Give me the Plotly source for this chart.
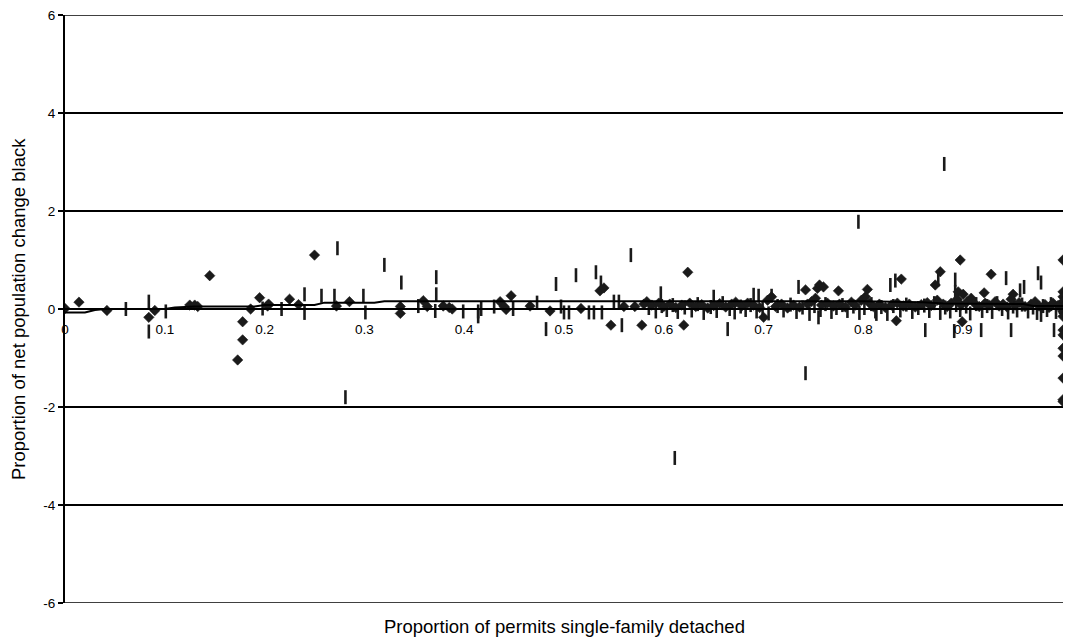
import plotly.graph_objects as go

# ---------------- data ----------------
diamond_x = [0.000, 0.014, 0.042, 0.084, 0.090, 0.125, 0.130, 0.133, 0.145, 0.173, 0.178, 0.178,
             0.186, 0.195, 0.203, 0.204, 0.225, 0.234, 0.250, 0.272, 0.285, 0.336, 0.336, 0.359,
             0.363, 0.379, 0.385, 0.388, 0.436, 0.440, 0.442, 0.447, 0.466, 0.486, 0.517, 0.536,
             0.540, 0.547, 0.560, 0.571, 0.578, 0.580, 0.583, 0.620, 0.624, 0.700, 0.708, 0.742,
             0.754, 0.756, 0.760, 0.775, 0.804, 0.833, 0.838, 0.872, 0.877, 0.895, 0.897, 0.899,
             0.900, 0.921, 0.928, 0.950,
             1.000, 1.000, 1.000, 1.000, 1.000, 1.000, 1.000, 1.000, 1.000, 1.000, 1.000, 1.000,
             1.000, 1.000,
             0.588, 0.595, 0.600, 0.606, 0.612, 0.618, 0.626, 0.632, 0.638, 0.644, 0.650, 0.656,
             0.662, 0.668, 0.672, 0.678, 0.684, 0.690, 0.696, 0.704, 0.712, 0.718, 0.724, 0.730,
             0.736, 0.744, 0.748, 0.752, 0.758, 0.764, 0.770, 0.776, 0.782, 0.788, 0.792, 0.798,
             0.802, 0.806, 0.810, 0.816, 0.822, 0.828, 0.834, 0.840, 0.846, 0.852, 0.858, 0.864,
             0.868, 0.874, 0.880, 0.884, 0.888, 0.894, 0.898, 0.904, 0.908, 0.912, 0.916, 0.922,
             0.926, 0.932, 0.936, 0.940, 0.944, 0.948, 0.952, 0.956, 0.962, 0.968, 0.972, 0.976,
             0.982, 0.986, 0.990, 0.995]
diamond_y = [0.01, 0.14, -0.03, -0.17, -0.03, 0.08, 0.08, 0.05, 0.68, -1.04, -0.26, -0.63,
             0.00, 0.23, 0.06, 0.10, 0.20, 0.09, 1.10, 0.06, 0.15, 0.05, -0.09, 0.17,
             0.05, 0.06, 0.03, 0.00, 0.15, 0.05, -0.01, 0.27, 0.06, -0.04, 0.01, 0.37,
             0.43, -0.33, 0.05, 0.05, -0.33, 0.10, 0.15, -0.33, 0.75, -0.17, 0.25, 0.39,
             0.42, 0.49, 0.45, 0.37, 0.40, -0.24, 0.61, 0.49, 0.76, 0.35, 1.00, -0.26,
             0.30, 0.33, 0.71, 0.30,
             1.00, 0.35, 0.25, 0.15, 0.05, -0.05, -0.15, -0.43, -0.53, -0.80, -0.96, -1.41,
             -1.85, -1.89,
             0.08, 0.12, 0.05, 0.10, 0.03, 0.08, 0.12, 0.05, 0.09, 0.02, 0.07, 0.11,
             0.04, 0.10, 0.14, 0.06, 0.12, 0.08, 0.03, 0.18, 0.05, 0.10, 0.02, 0.08,
             0.04, 0.10, 0.15, 0.22, 0.08, 0.12, 0.06, 0.10, 0.04, 0.14, 0.08, 0.18,
             0.25, 0.12, 0.05, 0.10, 0.03, 0.08, 0.12, 0.06, 0.10, 0.04, 0.09, 0.13,
             0.07, 0.18, 0.10, 0.05, 0.12, 0.20, 0.08, 0.15, 0.22, 0.10, 0.05, 0.12,
             0.08, 0.15, 0.06, 0.10, 0.04, 0.20, 0.08, 0.13, 0.05, 0.10, 0.15, 0.06,
             0.09, 0.03, 0.12, 0.07]

dash_x = [0.061, 0.084, 0.084, 0.101, 0.198, 0.217, 0.240, 0.240, 0.257, 0.270, 0.273, 0.281,
          0.299, 0.301, 0.320, 0.337, 0.354, 0.371, 0.372, 0.372, 0.399, 0.414, 0.414, 0.417,
          0.430, 0.449, 0.473, 0.482, 0.492, 0.497, 0.500, 0.505, 0.512, 0.525, 0.530, 0.532,
          0.537, 0.538, 0.550, 0.555, 0.558, 0.567, 0.597, 0.611, 0.650, 0.664, 0.690, 0.695,
          0.708, 0.735, 0.742, 0.755, 0.795, 0.813, 0.827, 0.832, 0.862, 0.875, 0.881, 0.892,
          0.892, 0.891, 0.918, 0.943, 0.948, 0.957, 0.961, 0.975, 0.978, 0.978, 0.991,
          0.585, 0.592, 0.598, 0.603, 0.609, 0.614, 0.621, 0.628, 0.634, 0.640, 0.647, 0.653,
          0.659, 0.666, 0.671, 0.677, 0.682, 0.687, 0.693, 0.699, 0.705, 0.714, 0.720, 0.727,
          0.733, 0.739, 0.746, 0.751, 0.757, 0.762, 0.768, 0.773, 0.779, 0.784, 0.790, 0.796,
          0.801, 0.808, 0.812, 0.818, 0.824, 0.830, 0.837, 0.843, 0.849, 0.855, 0.861, 0.866,
          0.871, 0.877, 0.882, 0.887, 0.893, 0.897, 0.903, 0.907, 0.913, 0.919, 0.924, 0.929,
          0.934, 0.939, 0.945, 0.950, 0.954, 0.959, 0.965, 0.970, 0.974, 0.980, 0.984, 0.988,
          0.993, 0.997]
dash_y = [0.00, 0.15, -0.46, -0.05, 0.01, 0.00, 0.30, -0.08, 0.27, 0.27, 1.24, -1.80,
          0.27, -0.07, 0.90, 0.54, 0.06, -0.04, 0.65, 0.30, -0.05, -0.05, -0.15, 0.00,
          0.05, 0.00, 0.13, -0.41, 0.51, 0.05, -0.07, -0.07, 0.69, -0.07, -0.07, 0.75,
          0.54, -0.07, 0.15, 0.15, -0.33, 1.10, 0.32, -3.04, 0.25, -0.41, 0.29, 0.27,
          0.27, 0.45, -1.31, -0.17, 1.78, -0.10, 0.49, 0.58, -0.43, 0.60, 2.96, 0.60,
          0.35, -0.45, -0.43, 0.63, -0.43, 0.38, 0.45, 0.73, 0.54, -0.12, -0.43,
          0.02, -0.05, 0.06, -0.02, 0.08, -0.06, 0.03, -0.03, 0.10, -0.08, 0.04, -0.04,
          0.12, 0.00, -0.07, 0.05, -0.02, 0.08, -0.05, 0.02, -0.09, 0.06, -0.03, 0.09,
          -0.06, 0.03, -0.10, 0.06, -0.02, 0.10, -0.06, 0.02, 0.08, -0.04, 0.05, -0.08,
          0.02, 0.10, -0.05, 0.04, -0.10, 0.06, -0.03, 0.09, -0.06, 0.02, 0.07, -0.04,
          0.12, -0.08, 0.03, -0.05, 0.08, -0.02, 0.05, -0.09, 0.10, -0.04, 0.06, -0.06,
          0.12, 0.00, -0.07, 0.05, -0.03, 0.09, -0.05, 0.03, -0.08, 0.06, -0.02, 0.10,
          -0.06, 0.04]

trend_x = [0.000, 0.020, 0.030, 0.040, 0.100, 0.110, 0.130, 0.190, 0.200, 0.250, 0.260,
           0.310, 0.320, 0.700, 0.800, 0.860, 0.880, 0.960, 0.970, 1.000]
trend_y = [-0.07, -0.07, -0.02, 0.00, 0.00, 0.03, 0.05, 0.05, 0.08, 0.08, 0.13,
           0.13, 0.16, 0.16, 0.16, 0.14, 0.11, 0.10, 0.06, 0.06]

x_ticks = [0, 0.1, 0.2, 0.3, 0.4, 0.5, 0.6, 0.7, 0.8, 0.9]
x_tick_text = ["0", "0.1", "0.2", "0.3", "0.4", "0.5", "0.6", "0.7", "0.8", "0.9"]
y_ticks = [-6, -4, -2, 0, 2, 4, 6]
y_tick_text = ["-6", "-4", "-2", "0", "2", "4", "6"]
y_edges = [-6, 6]

x_title = "Proportion of permits single-family detached"
y_title = "Proportion of net population change black"

FONT = "Liberation Sans, Arial, sans-serif"
MARK = "#1a1a1a"
TXT = "#000000"

fig = go.Figure()
fig.add_trace(go.Scatter(
    x=dash_x, y=dash_y, mode="markers",
    marker=dict(symbol="line-ns", size=10, color=MARK, line=dict(color=MARK, width=2.6)),
    showlegend=False, hoverinfo="x+y"))
fig.add_trace(go.Scatter(
    x=diamond_x, y=diamond_y, mode="markers",
    marker=dict(symbol="diamond", size=8, color=MARK, line=dict(color=MARK, width=0.6)),
    showlegend=False, hoverinfo="x+y"))
fig.add_trace(go.Scatter(
    x=trend_x, y=trend_y, mode="lines",
    line=dict(color="#000000", width=2),
    showlegend=False, hoverinfo="skip"))

# gridlines at the range edges (plotly omits them)
for yv in y_edges:
    fig.add_shape(type="line", xref="paper", yref="y", x0=0, x1=1, y0=yv, y1=yv,
                  line=dict(color="#000000", width=1.6), layer="below")

fig.update_layout(
    width=1065, height=644,
    margin=dict(l=65, r=2, t=15, b=41, pad=0),
    paper_bgcolor="white", plot_bgcolor="white",
    font=dict(family=FONT, color=TXT, size=13.5),
    xaxis=dict(
        range=[0, 1], anchor="free", position=0.5,
        showgrid=False, zeroline=False,
        showline=True, linecolor="#000000", linewidth=2,
        tickmode="array", tickvals=x_ticks, ticktext=x_tick_text,
        ticks="", ticklabelstandoff=8,
        tickfont=dict(size=13.5, family=FONT, color=TXT),
    ),
    yaxis=dict(
        range=[-6, 6],
        showgrid=True, gridcolor="#000000", gridwidth=1.6,
        zeroline=False,
        showline=True, linecolor="#000000", linewidth=2,
        tickmode="array", tickvals=y_ticks, ticktext=y_tick_text,
        ticks="outside", ticklen=5, tickcolor="#000000", tickwidth=1.5,
        tickfont=dict(size=13.5, family=FONT, color=TXT),
    ),
    annotations=[
        dict(text=x_title, xref="paper", yref="paper", x=0.5, y=0,
             xanchor="center", yanchor="top", yshift=-11, showarrow=False,
             font=dict(size=18.5, family=FONT, color=TXT)),
        dict(text=y_title, xref="paper", yref="paper", x=0, y=0.5,
             xanchor="center", yanchor="middle", xshift=-47, textangle=-90,
             showarrow=False, font=dict(size=18.5, family=FONT, color=TXT)),
    ],
)

fig.write_html("out.html")
